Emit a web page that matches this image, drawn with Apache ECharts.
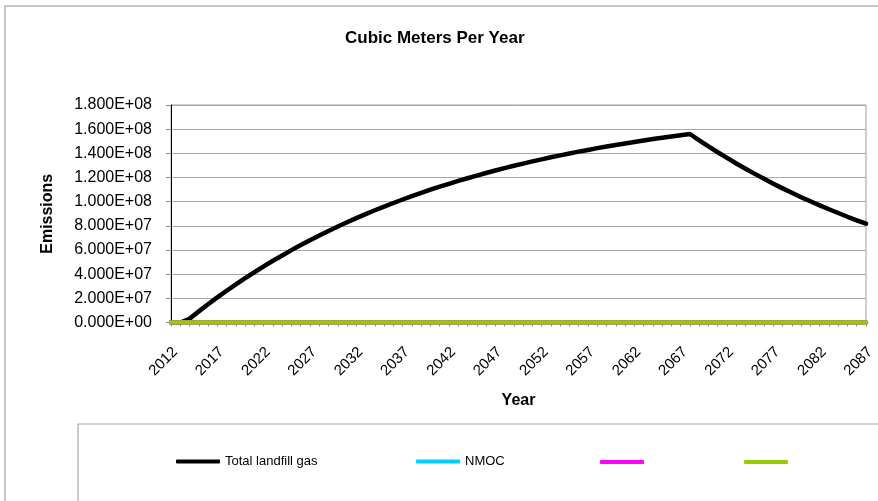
<!DOCTYPE html>
<html>
<head>
<meta charset="utf-8">
<script src="https://cdn.jsdelivr.net/npm/echarts@6/dist/echarts.min.js"></script>
<style>
html,body{margin:0;padding:0;background:#fff;}
#chart{width:878px;height:501px;}
</style>
</head>
<body>
<div id="chart"></div>
<script>
const years = ['2012','2013','2014','2015','2016','2017','2018','2019','2020','2021','2022','2023','2024','2025','2026','2027','2028','2029','2030','2031','2032','2033','2034','2035','2036','2037','2038','2039','2040','2041','2042','2043','2044','2045','2046','2047','2048','2049','2050','2051','2052','2053','2054','2055','2056','2057','2058','2059','2060','2061','2062','2063','2064','2065','2066','2067','2068','2069','2070','2071','2072','2073','2074','2075','2076','2077','2078','2079','2080','2081','2082','2083','2084','2085','2086','2087'];

const totalLandfillGas = [0,0,3.1e6,9.2e6,1.51e7,2.08e7,2.63e7,3.16e7,3.67e7,4.16e7,4.64e7,5.11e7,5.55e7,5.99e7,6.41e7,6.81e7,7.20e7,7.58e7,7.94e7,8.30e7,8.64e7,8.97e7,9.29e7,9.59e7,9.89e7,1.018e8,1.046e8,1.073e8,1.099e8,1.124e8,1.148e8,1.172e8,1.194e8,1.216e8,1.237e8,1.258e8,1.278e8,1.297e8,1.315e8,1.333e8,1.350e8,1.367e8,1.383e8,1.399e8,1.414e8,1.428e8,1.443e8,1.456e8,1.469e8,1.482e8,1.494e8,1.506e8,1.518e8,1.529e8,1.540e8,1.550e8,1.560e8,1.508e8,1.457e8,1.409e8,1.362e8,1.316e8,1.272e8,1.230e8,1.189e8,1.149e8,1.110e8,1.073e8,1.037e8,1.003e8,9.69e7,9.37e7,9.06e7,8.75e7,8.46e7,8.18e7];

const nmoc = [0,0,0,0,0,0,0,0,0,0,0,0,0,0,0,0,0,0,0,0,0,0,0,0,0,0,0,0,0,0,0,0,0,0,0,0,0,0,0,0,0,0,0,0,0,0,0,0,0,0,0,0,0,0,0,0,0,0,0,0,0,0,0,0,0,0,0,0,0,0,0,0,0,0,0,0];
const series3 = [0,0,0,0,0,0,0,0,0,0,0,0,0,0,0,0,0,0,0,0,0,0,0,0,0,0,0,0,0,0,0,0,0,0,0,0,0,0,0,0,0,0,0,0,0,0,0,0,0,0,0,0,0,0,0,0,0,0,0,0,0,0,0,0,0,0,0,0,0,0,0,0,0,0,0,0];
const series4 = [0,0,0,0,0,0,0,0,0,0,0,0,0,0,0,0,0,0,0,0,0,0,0,0,0,0,0,0,0,0,0,0,0,0,0,0,0,0,0,0,0,0,0,0,0,0,0,0,0,0,0,0,0,0,0,0,0,0,0,0,0,0,0,0,0,0,0,0,0,0,0,0,0,0,0,0];

const seriesNames = ['Total landfill gas', 'NMOC', ' ', '  '];
const seriesColors = ['#000000', '#00CCFF', '#FF00FF', '#99CC00'];

const yTicks = {min: 0, max: 1.8e8, interval: 2e7};

const FONT = '"Liberation Sans", Arial, sans-serif';

function sci(v) {
  if (v === 0) return '0.000E+00';
  const e = Math.floor(Math.log10(Math.abs(v)) + 1e-9);
  const m = v / Math.pow(10, e);
  const es = (e < 0 ? '-' : '+') + String(Math.abs(e)).padStart(2, '0');
  return m.toFixed(3) + 'E' + es;
}

const chart = echarts.init(document.getElementById('chart'), null, {renderer: 'canvas'});

const legendLefts = [176, 416, 600, 744];
const legendTops = [455, 455, 460, 460];
const legends = seriesNames.map((n, i) => ({
  data: [n],
  left: legendLefts[i],
  top: legendTops[i],
  padding: 0,
  icon: 'roundRect',
  itemWidth: 44,
  itemHeight: 4,
  selectedMode: false,
  formatter: name => name.trim(),
  textStyle: {fontFamily: FONT, fontSize: 13, color: '#000'}
}));

const dataSets = [totalLandfillGas, nmoc, series3, series4];

chart.setOption({
  animation: false,
  backgroundColor: '#fff',
  title: {
    text: 'Cubic Meters Per Year',
    left: 345,
    top: 30,
    padding: 0,
    textStyle: {fontFamily: FONT, fontSize: 17, fontWeight: 'bold', color: '#000'}
  },
  legend: legends,
  graphic: [
    {type: 'polyline', shape: {points: [[5, 501], [5, 6], [878, 6]]}, style: {stroke: '#b4b4b4', lineWidth: 1.5, fill: null}, silent: true},
    {type: 'rect', shape: {x: 78, y: 424, width: 900, height: 100}, style: {stroke: '#a8a8a8', lineWidth: 1.2, fill: null}, silent: true}
  ],
  grid: {
    left: 171, top: 105, right: 12, bottom: 178.5,
    outerBoundsMode: 'none',
    containLabel: false,
    show: true, borderColor: '#a0a0a0', borderWidth: 1
  },
  xAxis: {
    type: 'category',
    data: years,
    boundaryGap: false,
    name: 'Year',
    nameLocation: 'middle',
    nameGap: 70,
    nameTextStyle: {fontFamily: FONT, fontSize: 16, fontWeight: 'bold', color: '#000'},
    axisLine: {show: true, lineStyle: {color: '#000', width: 1}},
    axisTick: {show: true, interval: 0, length: 4, lineStyle: {color: '#909090'}},
    axisLabel: {
      interval: 4, rotate: 45, fontFamily: FONT, fontSize: 15, color: '#000',
      margin: 23, verticalAlign: 'top', lineHeight: 12
    },
    splitLine: {show: false}
  },
  yAxis: {
    type: 'value',
    min: yTicks.min, max: yTicks.max, interval: yTicks.interval,
    name: 'Emissions',
    nameLocation: 'middle',
    nameRotate: 90,
    nameGap: 115,
    nameTextStyle: {fontFamily: FONT, fontSize: 16, fontWeight: 'bold', color: '#000'},
    axisLine: {show: true, lineStyle: {color: '#000', width: 1}},
    axisTick: {show: true, length: 5, lineStyle: {color: '#909090'}},
    axisLabel: {fontFamily: FONT, fontSize: 16, color: '#000', margin: 19, formatter: sci},
    splitLine: {show: true, lineStyle: {color: '#a8a8a8', width: 1}}
  },
  series: dataSets.map((d, i) => ({
    name: seriesNames[i],
    type: 'line',
    data: d,
    showSymbol: false,
    symbol: 'none',
    color: seriesColors[i],
    lineStyle: {color: seriesColors[i], width: 4.5, cap: 'round', join: 'round'},
    itemStyle: {color: seriesColors[i]},
    z: 10 + i
  }))
});
</script>
</body>
</html>
